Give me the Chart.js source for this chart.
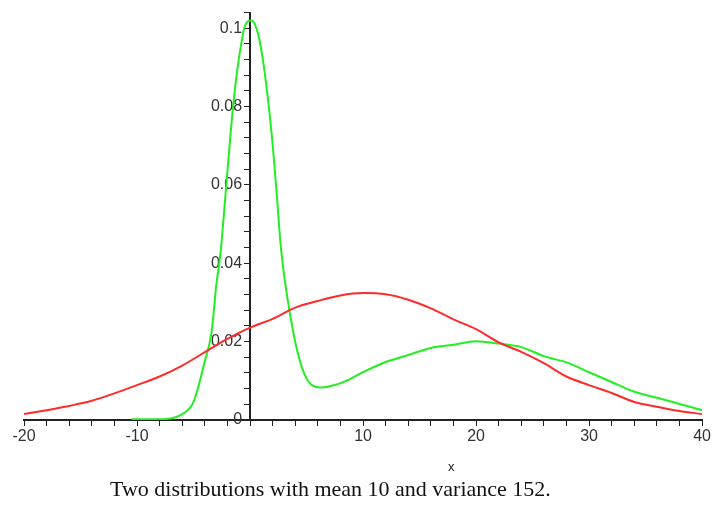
<!DOCTYPE html>
<html>
<head>
<meta charset="utf-8">
<script src="https://cdn.jsdelivr.net/npm/chart.js@4"></script>
<style>
  html, body { margin: 0; padding: 0; background: #fff; }
  #wrap { position: relative; width: 713px; height: 510px; }
  #caption {
    position: absolute; left: 110px; top: 476px;
    font-family: "Liberation Serif", "Times New Roman", serif;
    font-size: 22px; color: #111; white-space: nowrap;
  }
  #xname {
    position: absolute; left: 448px; top: 459px;
    font-family: "Liberation Sans", Arial, sans-serif;
    font-size: 13px; color: #222;
  }
</style>
</head>
<body>
<div id="wrap">
  <canvas id="plot"></canvas>
  <div id="xname">x</div>
  <div id="caption">Two distributions with mean 10 and variance 152.</div>
</div>
<script>
// red: normal curve
const redX = [-20, -18, -16, -14, -12, -10, -8, -6, -4, -2, 0, 2, 4, 6, 8, 10, 12, 14, 16, 18, 20, 22, 24, 26, 28, 30, 32, 34, 36, 38, 40];
const redY = [0.0015, 0.0025, 0.0036, 0.0049, 0.0068, 0.0089, 0.0111, 0.0139, 0.0173, 0.0207, 0.0236, 0.0258, 0.0287, 0.0304, 0.0318, 0.0324, 0.0321, 0.0307, 0.0285, 0.0257, 0.0232, 0.0198, 0.0174, 0.0145, 0.0111, 0.0089, 0.0069, 0.0046, 0.0034, 0.0023, 0.0015];

// green: the peaked mixture
const greenX = [-10.5, -8, -7, -6, -5, -4, -3.4, -3, -2.6, -2.1, -1.5, -1, -0.4, 0.1, 0.7, 1.3, 1.9, 2.3, 2.75, 3.6, 4.4, 5.2, 6.3, 7.7, 8.6, 10, 12, 14, 16, 18, 20, 22, 24, 26, 28, 30, 32, 34, 36, 38, 40];
const greenY = [0.0002, 0.0002, 0.0004, 0.0015, 0.0046, 0.0150, 0.0225, 0.0340, 0.0430, 0.0600, 0.0800, 0.0920, 0.1010, 0.1020, 0.0987, 0.0886, 0.0734, 0.0600, 0.0435, 0.0260, 0.0152, 0.0097, 0.0083, 0.0091, 0.0101, 0.0122, 0.0148, 0.0166, 0.0184, 0.0192, 0.0201, 0.0195, 0.0186, 0.0163, 0.0147, 0.0122, 0.0097, 0.0072, 0.0057, 0.0041, 0.0025];

const xMajor = [-20, -10, 10, 20, 30, 40];
const yMajor = [0, 0.02, 0.04, 0.06, 0.08, 0.1];

const toPoints = (xs, ys) => xs.map((x, i) => ({ x: x, y: ys[i] }));
const near = (v, list, eps) => list.find(m => Math.abs(m - v) < eps);

const axisColor = "#222";
const tickFont = { family: "Liberation Sans, Arial, sans-serif", size: 16 };

new Chart(document.getElementById("plot"), {
    type: "line",
    data: {
        datasets: [
            {
                label: "normal",
                data: toPoints(redX, redY),
                borderColor: "#ff2a2a",
                borderWidth: 2,
                pointRadius: 0,
                cubicInterpolationMode: "monotone"
            },
            {
                label: "mixture",
                data: toPoints(greenX, greenY),
                borderColor: "#22ee22",
                borderWidth: 2,
                pointRadius: 0,
                cubicInterpolationMode: "monotone"
            }
        ]
    },
    options: {
        responsive: true,
        maintainAspectRatio: false,
        animation: false,
        layout: { autoPadding: false, padding: { left: 24, right: 3, top: 9, bottom: 90 } },
        plugins: {
            legend: { display: false },
            tooltip: { enabled: false }
        },
        scales: {
            x: {
                type: "linear",
                position: { y: 0 },
                min: -20,
                max: 40,
                grid: { drawOnChartArea: false, drawTicks: true, tickLength: 5, color: axisColor },
                border: { color: axisColor, width: 2 },
                ticks: {
                    stepSize: 2,
                    autoSkip: false,
                    maxRotation: 0,
                    color: "#333",
                    font: tickFont,
                    padding: 2,
                    callback: (v) => {
                        const m = near(v, xMajor, 1e-6);
                        return m === undefined ? "" : String(m);
                    }
                }
            },
            y: {
                type: "linear",
                position: { x: 0 },
                min: 0,
                max: 0.104,
                grid: { drawOnChartArea: false, drawTicks: true, tickLength: 5, color: axisColor },
                border: { color: axisColor, width: 2 },
                ticks: {
                    stepSize: 0.004,
                    autoSkip: false,
                    color: "#333",
                    font: tickFont,
                    // labels of a centred axis sit right on the line, so pad them with an en space
                    callback: (v) => {
                        const m = near(v, yMajor, 1e-7);
                        return m === undefined ? "" : String(m) + "\u2002";
                    }
                }
            }
        }
    }
});
</script>
</body>
</html>
